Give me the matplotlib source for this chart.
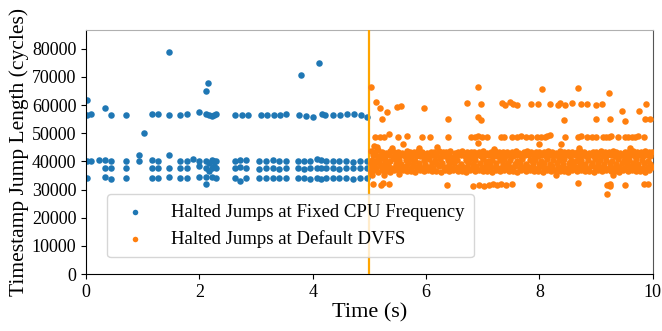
import numpy as np
import matplotlib
matplotlib.use("Agg")
import matplotlib.pyplot as plt

plt.rcParams["font.family"] = ["Liberation Serif", "DejaVu Serif"]

# ---- fixed CPU frequency (blue), one list per value level ----
blue_57k = [(0.02, 56500), (0.09, 56700), (0.44, 56500), (0.70, 56400), (1.16, 56700),
            (1.27, 56700), (1.46, 56600), (1.66, 56500), (1.78, 56800), (1.99, 57600),
            (2.12, 56900), (2.17, 56400), (2.22, 56200), (2.26, 56500), (2.29, 56800),
            (2.63, 56600), (2.75, 56300), (2.86, 56300), (3.08, 56600), (3.20, 56600),
            (3.31, 56300), (3.42, 56600), (3.53, 56900), (3.76, 56500), (3.88, 56100),
            (4.01, 55900), (4.16, 56900), (4.21, 56600), (4.35, 56600), (4.48, 56500),
            (4.61, 56800), (4.73, 56900), (4.86, 56600), (4.96, 55700)]
blue_40k = [(0.02, 40000), (0.09, 40000), (0.23, 40400), (0.33, 40400), (0.44, 40000),
            (0.70, 40000), (0.94, 42200), (0.94, 40000), (1.16, 40400), (1.27, 40200),
            (1.46, 42200), (1.66, 40200), (1.78, 40200), (1.89, 40700), (1.99, 40000),
            (2.12, 40000), (2.17, 39300), (2.22, 40400), (2.26, 40000), (2.29, 40000),
            (2.62, 40000), (2.71, 40400), (2.83, 40400), (3.06, 40000), (3.18, 40200),
            (3.30, 40400), (3.41, 40000), (3.53, 40200), (3.74, 40000), (3.85, 40000),
            (3.96, 40200), (4.08, 41000), (4.15, 40400), (4.24, 40200), (4.36, 40000),
            (4.47, 40000), (4.59, 40200), (4.71, 39800), (4.83, 40000), (4.95, 40000)]
blue_37k = [(0.33, 37500), (0.44, 37500), (0.70, 37500), (1.16, 37500), (1.27, 37500),
            (1.46, 37500), (1.66, 37500), (1.78, 37500), (1.99, 38200), (2.12, 37500),
            (2.17, 36700), (2.22, 37500), (2.26, 38200), (2.29, 37500), (2.62, 37500),
            (2.71, 38000), (2.83, 37500), (3.06, 37200), (3.18, 37500), (3.30, 37500),
            (3.41, 37200), (3.53, 37500), (3.74, 37500), (3.85, 37200), (3.96, 37500),
            (4.08, 37500), (4.15, 37800), (4.24, 37500), (4.36, 37500), (4.47, 37200),
            (4.59, 37500), (4.71, 37500), (4.83, 37800), (4.95, 37500)]
blue_34k = [(0.02, 34000), (0.33, 34500), (0.44, 33600), (0.70, 34000), (1.16, 34000),
            (1.27, 34000), (1.46, 34600), (1.66, 34000), (1.78, 34000), (1.99, 34500),
            (2.12, 34500), (2.12, 32100), (2.22, 34500), (2.29, 34000), (2.62, 34000),
            (2.72, 33000), (2.83, 34000), (3.06, 34000), (3.18, 34000), (3.30, 34200),
            (3.41, 34000), (3.53, 34200), (3.74, 34000), (3.85, 34000), (3.96, 33800),
            (4.08, 34000), (4.15, 33800), (4.24, 34000), (4.36, 34000), (4.47, 34000),
            (4.59, 34000), (4.71, 33800), (4.83, 34000), (4.95, 34000)]
blue_outliers = [(0.02, 61800), (0.33, 59000), (1.02, 50200), (1.46, 78700),
                 (2.12, 65000), (2.15, 67800), (3.79, 70600), (4.11, 74800)]

# ---- default DVFS (orange) ----
orange_high = [(5.03, 66500), (5.11, 61200), (5.19, 59100), (5.23, 55100), (5.31, 57700),
               (5.49, 59300), (5.55, 59700), (5.97, 58900), (6.38, 55100), (6.73, 60700),
               (6.92, 66500), (6.97, 60500), (6.92, 55600), (6.97, 54800), (7.34, 60700),
               (7.40, 60000), (7.48, 61200), (7.54, 60300), (7.61, 60000), (7.86, 60300),
               (7.98, 60300), (8.05, 65700), (8.18, 60300), (8.33, 59900), (8.37, 60600),
               (8.45, 60100), (8.57, 60600), (8.68, 66100), (8.74, 60500), (8.84, 60500),
               (9.00, 60100), (9.11, 60300), (9.22, 64400), (8.44, 54800), (9.00, 55100),
               (9.24, 55100), (9.45, 57900), (9.51, 54400), (9.75, 57900), (9.89, 60300),
               (9.86, 55100), (9.95, 55100)]
orange_49k = [(5.10, 48700), (5.19, 48700), (5.26, 48800), (5.34, 49600), (5.50, 48700),
              (5.66, 49000), (5.92, 48700), (6.07, 48700), (6.38, 48700), (6.79, 48600),
              (6.86, 48700), (6.92, 48900), (6.98, 48700), (7.08, 48700), (7.32, 48600),
              (7.38, 48800), (7.51, 48700), (7.61, 48700), (7.68, 48900), (7.77, 48700),
              (7.86, 48700), (7.95, 48800), (8.02, 48700), (8.10, 48700), (8.14, 48900),
              (8.18, 49200), (8.45, 48700), (8.68, 48700), (8.74, 48900), (8.84, 48700),
              (8.92, 48700), (9.00, 48700), (9.12, 48600), (9.18, 48800), (9.23, 48700),
              (9.27, 48900), (9.39, 48700), (9.51, 48700), (9.57, 48800), (9.63, 48700),
              (9.68, 48700), (9.74, 48900), (9.84, 48700)]
orange_low = [(5.07, 32000), (5.20, 31500), (5.24, 32200), (5.35, 31800), (6.37, 31700),
              (6.82, 31400), (6.93, 31600), (7.02, 31300), (7.11, 31700), (7.18, 31900),
              (7.26, 31500), (7.33, 32000), (7.41, 31600), (7.51, 31800), (7.99, 31500),
              (8.68, 32400), (9.20, 28300), (9.20, 31500), (9.24, 31200), (9.25, 32000),
              (9.51, 31500), (9.85, 31800), (9.92, 32000)]
orange_band = [
    # ~43k
    (5.03, 43600), (5.10, 43200), (5.15, 43900), (5.23, 43400), (5.30, 43100), (5.36, 43700),
    (5.44, 43300), (5.50, 43500), (5.58, 43000), (5.66, 43800), (5.71, 43400), (5.79, 43200),
    (5.86, 43600), (5.93, 43300), (6.01, 43100), (6.08, 43500), (6.14, 43400), (6.22, 43800),
    (6.30, 43200), (6.35, 43400), (6.43, 43600), (6.51, 43100), (6.57, 43300), (6.64, 43700),
    (6.72, 43400), (6.80, 43200), (6.85, 43500), (6.93, 43300), (7.01, 43600), (7.07, 43100),
    (7.14, 43400), (7.22, 43800), (7.29, 43300), (7.35, 43200), (7.43, 43500), (7.51, 43400),
    (7.58, 43700), (7.64, 43100), (7.72, 43300), (7.79, 43600), (7.86, 43400), (7.94, 43200),
    (8.00, 43500), (8.08, 43300), (8.15, 43800), (8.22, 43400), (8.29, 43100), (8.37, 43600),
    (8.44, 43300), (8.50, 43500), (8.58, 43200), (8.66, 43400), (8.72, 43700), (8.79, 43300),
    (8.87, 43100), (8.94, 43500), (9.00, 43400), (9.08, 43600), (9.15, 43200), (9.22, 43300),
    (9.30, 43800), (9.36, 43400), (9.43, 43100), (9.51, 43500), (9.57, 43300), (9.65, 43600),
    (9.72, 43200), (9.79, 43400), (9.86, 43700), (9.93, 43300), (9.98, 43500),
    # ~42k
    (5.06, 42100), (5.13, 41800), (5.20, 42300), (5.27, 41900), (5.34, 42200), (5.41, 41700),
    (5.48, 42000), (5.55, 42400), (5.62, 41800), (5.69, 42100), (5.75, 42300), (5.82, 41900),
    (5.90, 42000), (5.97, 42200), (6.04, 41800), (6.11, 42100), (6.18, 42300), (6.26, 41900),
    (6.33, 42000), (6.40, 42200), (6.47, 41700), (6.54, 42100), (6.61, 42300), (6.68, 41900),
    (6.76, 42100), (6.83, 42000), (6.90, 42300), (6.97, 41800), (7.04, 42100), (7.11, 42200),
    (7.18, 41900), (7.25, 42000), (7.32, 42300), (7.39, 41800), (7.47, 42100), (7.54, 42000),
    (7.61, 42200), (7.68, 41900), (7.75, 42100), (7.82, 42300), (7.90, 41800), (7.97, 42000),
    (8.04, 42200), (8.11, 41900), (8.19, 42100), (8.26, 42300), (8.33, 41800), (8.40, 42000),
    (8.47, 42200), (8.54, 41900), (8.62, 42100), (8.69, 42000), (8.76, 42300), (8.83, 41800),
    (8.90, 42100), (8.97, 42000), (9.04, 42200), (9.12, 41900), (9.19, 42100), (9.26, 42300),
    (9.33, 41800), (9.40, 42000), (9.47, 42200), (9.54, 41900), (9.61, 42100), (9.68, 42000),
    (9.76, 42300), (9.83, 41800), (9.90, 42100), (9.96, 42000),
    # ~40.5k
    (5.04, 40600), (5.12, 40300), (5.19, 40800), (5.28, 40500), (5.37, 40200), (5.45, 40700),
    (5.52, 40400), (5.64, 40600), (5.73, 40900), (5.81, 40300), (5.96, 40500), (6.05, 40700),
    (6.16, 40400), (6.24, 40800), (6.38, 40500), (6.45, 40300), (6.55, 40600), (6.70, 40400),
    (6.78, 40700), (6.87, 40500), (7.00, 40800), (7.09, 40300), (7.16, 40600), (7.30, 40400),
    (7.38, 40700), (7.49, 40500), (7.60, 40300), (7.70, 40800), (7.84, 40500), (7.92, 40600),
    (8.02, 40300), (8.13, 40700), (8.24, 40500), (8.35, 40400), (8.43, 40800), (8.56, 40500),
    (8.64, 40300), (8.74, 40600), (8.85, 40500), (8.99, 40700), (9.07, 40400), (9.17, 40600),
    (9.29, 40300), (9.38, 40800), (9.49, 40500), (9.59, 40400), (9.70, 40700), (9.81, 40500),
    (9.92, 40300),
    # ~39k
    (5.02, 39300), (5.09, 39000), (5.17, 39500), (5.25, 39100), (5.33, 39400), (5.47, 39200),
    (5.56, 39000), (5.68, 39500), (5.77, 39200), (5.88, 39300), (5.99, 39000), (6.10, 39400),
    (6.20, 39200), (6.28, 39500), (6.41, 39100), (6.50, 39300), (6.62, 39000), (6.74, 39400),
    (6.82, 39200), (6.95, 39300), (7.05, 39500), (7.13, 39100), (7.24, 39300), (7.36, 39000),
    (7.45, 39400), (7.57, 39200), (7.66, 39500), (7.77, 39100), (7.88, 39300), (8.00, 39000),
    (8.09, 39400), (8.18, 39200), (8.31, 39500), (8.41, 39100), (8.52, 39300), (8.60, 39000),
    (8.71, 39400), (8.81, 39200), (8.92, 39300), (9.03, 39500), (9.14, 39100), (9.24, 39300),
    (9.35, 39000), (9.45, 39400), (9.55, 39200), (9.66, 39500), (9.74, 39100), (9.85, 39300),
    (9.95, 39000),
    # ~38k
    (5.05, 38000), (5.12, 37700), (5.20, 38200), (5.27, 37800), (5.35, 38100), (5.42, 37600),
    (5.50, 38000), (5.57, 37900), (5.65, 38200), (5.74, 37700), (5.82, 38000), (5.90, 38100),
    (5.98, 37800), (6.06, 38000), (6.13, 37700), (6.22, 38200), (6.31, 37900), (6.39, 38000),
    (6.48, 37700), (6.56, 38100), (6.65, 37900), (6.73, 38000), (6.81, 37800), (6.89, 38200),
    (6.98, 37900), (7.06, 37700), (7.15, 38000), (7.23, 38100), (7.31, 37800), (7.40, 38000),
    (7.48, 37900), (7.57, 38200), (7.65, 37700), (7.73, 38000), (7.81, 37900), (7.89, 38100),
    (7.98, 37800), (8.06, 38000), (8.14, 37700), (8.23, 38200), (8.32, 37900), (8.40, 38000),
    (8.49, 37800), (8.57, 38100), (8.65, 37900), (8.74, 38000), (8.82, 37700), (8.91, 38200),
    (8.99, 37900), (9.07, 38000), (9.16, 37800), (9.24, 38100), (9.33, 37900), (9.41, 38000),
    (9.49, 37700), (9.58, 38200), (9.66, 37900), (9.74, 38000), (9.83, 37800), (9.91, 38100),
    (9.98, 37900),
    # ~36.7k
    (5.02, 36500), (5.08, 36800), (5.15, 36300), (5.22, 36900), (5.30, 36600), (5.37, 36400),
    (5.44, 36800), (5.52, 36600), (5.59, 36900), (5.67, 36500), (5.74, 36700), (5.81, 36400),
    (5.89, 36800), (5.96, 36600), (6.03, 36900), (6.11, 36500), (6.18, 36700), (6.26, 36400),
    (6.33, 36800), (6.41, 36600), (6.48, 36900), (6.56, 36500), (6.63, 36700), (6.71, 36400),
    (6.78, 36800), (6.86, 36600), (6.93, 36900), (7.01, 36500), (7.08, 36700), (7.16, 36400),
    (7.23, 36800), (7.31, 36600), (7.38, 36900), (7.46, 36500), (7.53, 36700), (7.61, 36400),
    (7.68, 36800), (7.76, 36600), (7.83, 36900), (7.91, 36500), (7.98, 36700), (8.06, 36400),
    (8.13, 36800), (8.21, 36600), (8.28, 36900), (8.36, 36500), (8.43, 36700), (8.51, 36400),
    (8.58, 36800), (8.66, 36600), (8.73, 36900), (8.81, 36500), (8.88, 36700), (8.96, 36400),
    (9.03, 36800), (9.11, 36600), (9.18, 36900), (9.26, 36500), (9.33, 36700), (9.41, 36400),
    (9.48, 36800), (9.56, 36600), (9.63, 36900), (9.71, 36500), (9.78, 36700), (9.86, 36400),
    (9.93, 36800),
    # strays just outside the band
    (5.05, 35200), (5.14, 45000), (5.25, 35000), (5.40, 44800), (5.60, 46000), (5.88, 44600),
    (6.20, 45000), (6.92, 46500), (7.20, 44500), (8.00, 46300), (8.39, 46000), (8.30, 35000),
    (8.70, 44700), (9.30, 35300), (9.60, 44800), (5.08, 45300), (5.52, 35400),
]

BLUE, ORANGE = "#1f77b4", "#ff7f0e"


def xy(*groups):
    pts = np.array([p for g in groups for p in g], dtype=float)
    return pts[:, 0], pts[:, 1]


fig = plt.figure(figsize=(6.62, 3.31), dpi=100)
ax = fig.add_axes([0.130, 0.172, 0.856, 0.737])

bt, bv = xy(blue_57k, blue_40k, blue_37k, blue_34k, blue_outliers)
ot, ov = xy(orange_high, orange_49k, orange_band, orange_low)
ax.scatter(bt, bv, s=22, color=BLUE, linewidths=0, zorder=2,
           label="Halted Jumps at Fixed CPU Frequency")
ax.axvline(5, color="#ffa500", linewidth=1.6, zorder=3)
ax.scatter(ot, ov, s=22, color=ORANGE, linewidths=0, zorder=4,
           label="Halted Jumps at Default DVFS")

ax.set_xlim(0, 10)
ax.set_ylim(0, 86600)
ax.set_xticks([0, 2, 4, 6, 8, 10])
ax.set_yticks(np.arange(0, 80001, 10000))
ax.tick_params(labelsize=13)
ax.set_xlabel("Time (s)", fontsize=16, labelpad=2)
ax.set_ylabel("Timestamp Jump Length (cycles)", fontsize=15.5, labelpad=2)
ax.spines["top"].set_color("#b0b0b0")
ax.spines["right"].set_color("#555555")

ax.legend(loc="lower left", bbox_to_anchor=(0.037, 0.068), borderaxespad=0,
          fontsize=13.5, framealpha=0.8, handletextpad=0.9, borderpad=0.5,
          labelspacing=0.5, markerscale=0.85)

fig.savefig("out.png", dpi=100)
